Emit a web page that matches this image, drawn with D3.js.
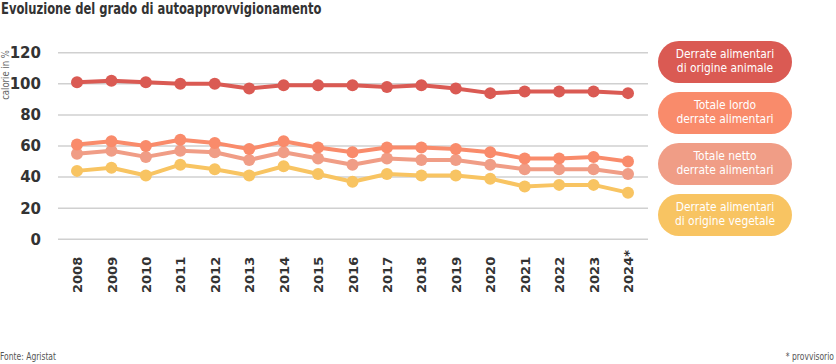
<!DOCTYPE html>
<html><head><meta charset="utf-8">
<script src="https://cdn.jsdelivr.net/npm/d3@7"></script>
<style>
body{margin:0;background:#fff;}
svg{display:block;}
</style></head>
<body>
<svg id="c" width="836" height="364"></svg>
<script>
const years = ["2008","2009","2010","2011","2012","2013","2014","2015","2016","2017","2018","2019","2020","2021","2022","2023","2024*"];
const animale = [101,102,101,100,100,97,99,99,99,98,99,97,94,95,95,95,94];
const lordo   = [61,63,60,64,62,58,63,59,56,59,59,58,56,52,52,53,50];
const netto   = [55,57,53,57,56,51,56,52,48,52,51,51,48,45,45,45,42];
const vegetale= [44,46,41,48,45,41,47,42,37,42,41,41,39,34,35,35,30];
const yTicks = [0,20,40,60,80,100,120];
const seriesNames = [["Derrate alimentari","di origine animale"],["Totale lordo","derrate alimentari"],["Totale netto","derrate alimentari"],["Derrate alimentari","di origine vegetale"]];
const colors = ["#da5a53","#f98b6b","#f09d86","#f8c462"];

const series = [animale, lordo, netto, vegetale];
const svg = d3.select("#c");
const FONT = "'DejaVu Sans',sans-serif";

svg.append("text").attr("transform","translate(1,14) scale(0.77,1)")
  .attr("font-family",FONT).attr("font-weight","bold").attr("font-size",15).attr("fill","#333")
  .text("Evoluzione del grado di autoapprovvigionamento");

const x = d3.scalePoint().domain(years).range([77,628]);
const y = d3.scaleLinear().domain([0,120]).range([239.3,52.7]);

// grid
svg.append("g").selectAll("line").data(yTicks).join("line")
  .attr("x1",58).attr("x2",648).attr("y1",d=>y(d)).attr("y2",d=>y(d))
  .attr("stroke","#d0d0d0").attr("stroke-width",1.5);

// y axis
const ya = svg.append("g").attr("transform","translate(44,0)")
  .call(d3.axisLeft(y).tickValues(yTicks).tickSize(0).tickPadding(3));
ya.select(".domain").remove();
ya.selectAll("text").attr("font-family",FONT).attr("font-weight","bold")
  .attr("font-size",15).attr("fill","#333");

svg.append("text").attr("transform","translate(9,75) rotate(-90) scale(0.85,1)").attr("text-anchor","middle")
  .attr("font-family",FONT).attr("font-size",10).attr("fill","#666").text("calorie in %");

// x axis
const xa = svg.append("g").attr("transform","translate(0,293)")
  .call(d3.axisBottom(x).tickSize(0).tickPadding(0));
xa.select(".domain").remove();
xa.selectAll("text").attr("transform","rotate(-90)").attr("text-anchor","start")
  .attr("dy","0.35em").attr("dx",0).attr("y",0).attr("x",0)
  .attr("font-family",FONT).attr("font-weight","bold")
  .attr("font-size",13).attr("fill","#333");

// lines
const line = d3.line().x((d,i)=>x(years[i])).y(d=>y(d));
const order = [3,2,1,0];
order.forEach(k=>{
  const g = svg.append("g");
  g.append("path").datum(series[k]).attr("d",line).attr("fill","none")
    .attr("stroke",colors[k]).attr("stroke-width",4).attr("stroke-linejoin","round");
  g.selectAll("circle").data(series[k]).join("circle")
    .attr("cx",(d,i)=>x(years[i])).attr("cy",d=>y(d)).attr("r",6).attr("fill",colors[k]);
});

// legend
const lg = svg.append("g");
seriesNames.forEach((nm,k)=>{
  const top = 41 + k*51;
  lg.append("rect").attr("x",658).attr("y",top).attr("width",134).attr("height",42)
    .attr("rx",21).attr("ry",21).attr("fill",colors[k]);
  const t = lg.append("text").attr("transform",`translate(725,${top}) scale(0.93,1)`).attr("text-anchor","middle")
    .attr("font-family",FONT).attr("font-size",11.5).attr("fill","#fff");
  t.append("tspan").attr("x",0).attr("y",17.3).text(nm[0]);
  t.append("tspan").attr("x",0).attr("y",31).text(nm[1]);
});

svg.append("text").attr("transform","translate(0,360) scale(0.76,1)")
  .attr("font-family",FONT).attr("font-size",10).attr("fill","#555").text("Fonte: Agristat");
svg.append("text").attr("transform","translate(834,360) scale(0.76,1)").attr("text-anchor","end")
  .attr("font-family",FONT).attr("font-size",10).attr("fill","#555").text("* provvisorio");
</script>
</body></html>
